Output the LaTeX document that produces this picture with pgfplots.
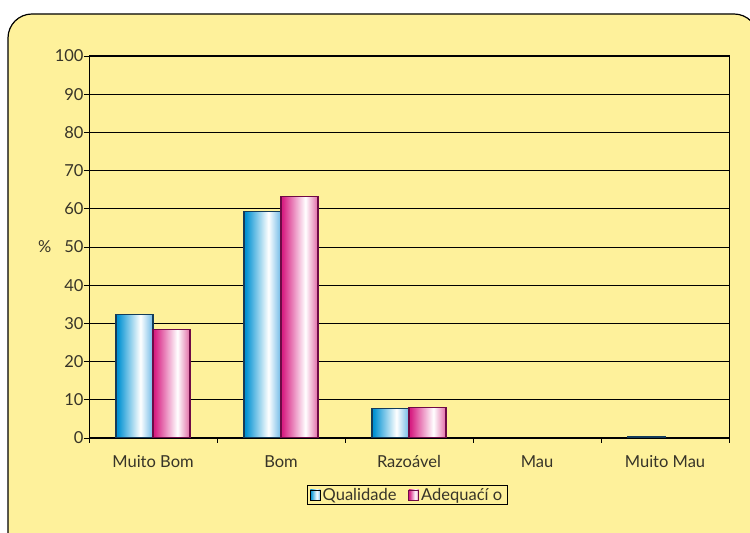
\documentclass[border=0pt]{standalone}
\usepackage{pgfplots}
\pgfplotsset{compat=1.18}
\usepackage{fontspec}
\setmainfont{Lato}
\definecolor{bg}{RGB}{254,241,155}
\definecolor{txt}{RGB}{55,52,40}
\definecolor{blueD}{RGB}{0,145,210}
\definecolor{blueL}{RGB}{110,185,230}
\definecolor{pinkD}{RGB}{215,30,130}
\definecolor{pinkL}{RGB}{225,105,165}
\definecolor{blueE}{RGB}{20,60,90}
\definecolor{pinkE}{RGB}{110,10,70}
\pgfdeclarehorizontalshading{qshade}{100bp}{color(0bp)=(blueD); color(27bp)=(blueD); color(58bp)=(white); color(75bp)=(blueL); color(100bp)=(blueL)}
\pgfdeclarehorizontalshading{ashade}{100bp}{color(0bp)=(pinkD); color(27bp)=(pinkD); color(58bp)=(white); color(75bp)=(pinkL); color(100bp)=(pinkL)}
\pgfplotsset{
  qbar/.style={ybar, bar width=37pt, bar shift=-18.5pt, shading=qshade, draw=blueE, line width=1.2pt, forget plot},
  abar/.style={ybar, bar width=37pt, bar shift=18.5pt, shading=ashade, draw=pinkE, line width=1.2pt, forget plot},
}
\begin{document}
\begin{tikzpicture}[x=1pt,y=1pt]
\useasboundingbox (0,0) rectangle (750,533);
\begin{scope}
\clip (0,0) rectangle (750,533);
\draw[fill=bg, line width=1.2pt, rounded corners=24pt] (8,-40) rectangle (758,519);
\end{scope}
\begin{axis}[
  at={(89pt,95pt)}, anchor=south west,
  scale only axis, width=640pt, height=382pt,
  xmin=-0.5, xmax=4.5, ymin=0, ymax=100,
  ytick={0,10,...,100},
  xtick={0,...,4},
  xticklabels={Muito Bom,Bom,Razoável,Mau,Muito Mau},
  minor xtick={-0.5,0.5,...,4.5},
  xtick pos=bottom, ytick pos=left,
  tick align=outside,
  major tick length=5pt, minor tick length=5pt,
  major x tick style={draw=none},
  every tick/.style={black, line width=0.8pt},
  ymajorgrids,
  grid style={black, line width=0.8pt},
  axis line style={black, line width=1pt},
  axis background/.style={fill=bg},
  /pgf/number format/assume math mode=true,
  tick label style={font=\fontsize{16.5}{19}\selectfont, text=txt},
  xticklabel style={yshift=-9pt},
  yticklabel style={xshift=3pt},
  ylabel={\%},
  ylabel style={at={(axis description cs:-0.069,0.5)}, rotate=-90, anchor=center, font=\fontsize{16.5}{19}\selectfont, text=txt},
  legend style={at={(axis description cs:0.497,-0.149)}, anchor=center, legend columns=2,
    draw=black, line width=0.8pt, fill=bg, font=\fontsize{16.5}{19}\selectfont, text=txt,
    inner xsep=3pt, inner ysep=1pt, /tikz/every even column/.append style={column sep=10pt}},
  legend image code/.code={\draw[#1, line width=0.8pt] (0pt,-5pt) rectangle (10pt,5pt);},
]
% Qualidade
\addplot[qbar] coordinates {(0,32.4)};
\addplot[qbar] coordinates {(1,59.2)};
\addplot[qbar] coordinates {(2,7.8)};
\addplot[qbar] coordinates {(4,0.4)};
% Adequacao
\addplot[abar] coordinates {(0,28.4)};
\addplot[abar] coordinates {(1,63.3)};
\addplot[abar] coordinates {(2,8.0)};
\addlegendimage{shading=qshade, draw=black}
\addlegendentry{Qualidade}
\addlegendimage{shading=ashade, draw=pinkE}
\addlegendentry{Adequaćí o}
\end{axis}
\end{tikzpicture}
\end{document}
